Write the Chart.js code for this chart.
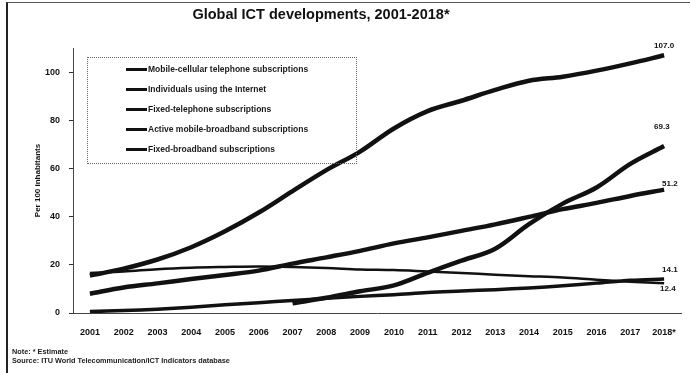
<!DOCTYPE html>
<html>
<head>
<meta charset="utf-8">
<script src="https://cdn.jsdelivr.net/npm/chart.js@4.4.1/dist/chart.umd.min.js"></script>
<style>
  html, body { margin: 0; padding: 0; background: #fff; }
  #wrap { position: relative; width: 690px; height: 373px; overflow: hidden; font-family: "Liberation Sans", Arial, sans-serif; }
  #frame { position: absolute; left: 6px; top: 2px; width: 690px; height: 380px; border-left: 2px solid #222; border-top: 1px solid #555; }
  #title { position: absolute; left: 0; width: 642px; top: 6px; text-align: center; font-weight: bold; font-size: 14.5px; color: #111; }
  #legend { position: absolute; left: 87px; top: 57px; width: 268px; height: 105px; border: 1px dotted #666; }
  .item { position: absolute; left: 38px; height: 10px; font-size: 8.5px; font-weight: bold; color: #1a1a1a; white-space: nowrap; line-height: 10px; }
  .item span.sw { display: inline-block; width: 21px; height: 3px; background: #111; vertical-align: middle; margin-right: 1px; }
  .note { position: absolute; left: 12px; font-size: 7.3px; font-weight: bold; color: #222; white-space: nowrap; }
  canvas { position: absolute; left: 0; top: 0; }
</style>
</head>
<body>
<div id="wrap">
  <div id="frame"></div>
  <canvas id="myChart" width="690" height="373"></canvas>
  <div id="title">Global ICT developments, 2001-2018*</div>
  <div id="legend"></div>
  <div class="note" style="top:347px">Note: * Estimate</div>
  <div class="note" style="top:356px">Source: ITU World Telecommunication/ICT Indicators database</div>
</div>
<script>
const years = ["2001","2002","2003","2004","2005","2006","2007","2008","2009","2010","2011","2012","2013","2014","2015","2016","2017","2018*"];
const seriesNames = [
  "Mobile-cellular telephone subscriptions",
  "Individuals using the Internet",
  "Fixed-telephone subscriptions",
  "Active mobile-broadband subscriptions",
  "Fixed-broadband subscriptions"
];
const mobileCellular = [15.5,18.4,22.2,27.3,33.9,41.7,50.6,59.3,67.0,76.6,83.8,88.1,92.6,96.4,98.1,100.6,103.6,107.0];
const internetUsers = [8.0,10.6,12.3,14.1,15.8,17.6,20.5,23.1,25.8,28.9,31.4,34.1,36.8,39.9,43.1,45.7,48.6,51.2];
const fixedTelephone = [16.6,17.2,18.2,18.8,19.1,19.3,19.1,18.7,18.1,17.8,17.2,16.6,15.9,15.3,14.7,13.8,13.0,12.4];
const mobileBroadband = [null,null,null,null,null,null,4.0,6.3,9.0,11.5,16.7,21.7,26.7,36.9,45.4,52.1,61.9,69.3];
const fixedBroadband = [0.6,1.0,1.6,2.4,3.4,4.3,5.2,6.1,6.9,7.6,8.5,9.1,9.7,10.4,11.3,12.4,13.6,14.1];
const endLabels = ["107.0","51.2","12.4","69.3","14.1"];
const yTicks = [0,20,40,60,80,100];

const allSeries = [mobileCellular, internetUsers, fixedTelephone, mobileBroadband, fixedBroadband];
const widths = [4.5, 4.5, 2.5, 4.5, 3.5];
// where each end value sits relative to the last point [dx, dy]
const endOffsets = [[-10, -9], [-2, -6], [-4, 6], [-10, -19], [-2, -9]];

// legend built from names
const legend = document.getElementById("legend");
seriesNames.forEach((n, i) => {
  const d = document.createElement("div");
  d.className = "item";
  d.style.top = (6 + i * 20) + "px";
  d.innerHTML = '<span class="sw"></span>' + n;
  legend.appendChild(d);
});

const endLabelPlugin = {
  id: "endLabels",
  afterDatasetsDraw(chart) {
    const ctx = chart.ctx;
    ctx.save();
    ctx.font = "bold 8px 'Liberation Sans', Arial, sans-serif";
    ctx.fillStyle = "#111";
    ctx.textBaseline = "middle";
    chart.data.datasets.forEach((ds, i) => {
      const meta = chart.getDatasetMeta(i);
      const pt = meta.data[meta.data.length - 1];
      ctx.fillText(endLabels[i], pt.x + endOffsets[i][0], pt.y + endOffsets[i][1]);
    });
    ctx.restore();
  }
};

Chart.defaults.font.family = "'Liberation Sans', Arial, sans-serif";
Chart.defaults.color = "#111";

new Chart(document.getElementById("myChart"), {
  type: "line",
  data: {
    labels: years,
    datasets: allSeries.map((vals, i) => ({
      label: seriesNames[i],
      data: vals,
      borderColor: "#111",
      backgroundColor: "#111",
      borderWidth: widths[i],
      pointRadius: 0,
      tension: 0.35,
      fill: false
    }))
  },
  options: {
    responsive: false,
    animation: false,
    layout: { padding: { left: 8, right: 9, top: 48, bottom: 30 } },
    plugins: {
      legend: { display: false },
      tooltip: { enabled: false }
    },
    scales: {
      x: {
        offset: true,
        grid: { display: false },
        border: { display: true, color: "#444", dash: [1, 3], width: 1 },
        ticks: { font: { size: 9, weight: "bold" }, padding: 6, maxRotation: 0, autoSkip: false },
        afterFit: s => { s.height = 30; }
      },
      y: {
        min: 0,
        max: 110,
        afterBuildTicks: s => { s.ticks = yTicks.map(v => ({ value: v })); },
        grid: { drawOnChartArea: false, drawTicks: true, tickLength: 4, color: "#333" },
        border: { display: true, color: "#444", dash: [1, 2], width: 1 },
        ticks: { font: { size: 9, weight: "bold" }, padding: 9 },
        title: { display: true, text: "Per 100 inhabitants", font: { size: 8, weight: "bold" }, padding: { top: 25, bottom: 2 } },
        afterFit: s => { s.width = 65; }
      }
    }
  },
  plugins: [endLabelPlugin]
});
</script>
</body>
</html>
